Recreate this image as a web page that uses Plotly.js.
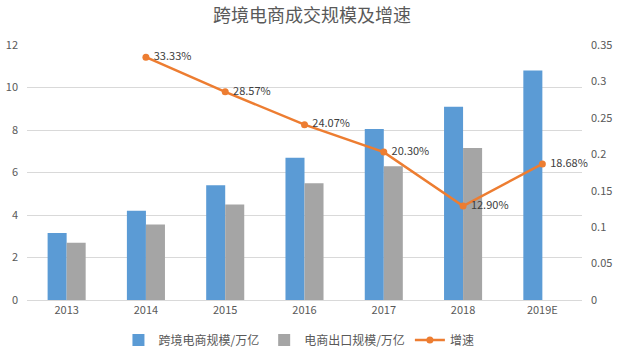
<!DOCTYPE html>
<html><head><meta charset="utf-8">
<script src="https://cdn.plot.ly/plotly-3.0.1.min.js"></script>
<style>html,body{margin:0;padding:0;background:#fff}#c{width:624px;height:353px}</style>
</head><body><div id="c"></div>
<script>
const years = ['2013','2014','2015','2016','2017','2018','2019E'];
const crossBorder = [3.15, 4.2, 5.4, 6.7, 8.05, 9.1, 10.8];
const exportScale = [2.7, 3.55, 4.5, 5.5, 6.3, 7.15, null];
const growth = [null, 0.3333, 0.2857, 0.2407, 0.2030, 0.1290, 0.1868];
const growthLabels = ['', ' 33.33%', ' 28.57%', ' 24.07%', ' 20.30%', ' 12.90%', ' 18.68%'];
const names = ['跨境电商规模/万亿', '电商出口规模/万亿', '增速'];

const font = 'Noto Sans CJK SC, Noto Sans, sans-serif';
const data = [
  {type:'bar', x:years, y:crossBorder, name:names[0], marker:{color:'#5B9BD5'}, hoverinfo:'none'},
  {type:'bar', x:years, y:exportScale, name:names[1], marker:{color:'#A5A5A5'}, hoverinfo:'none'},
  {type:'scatter', mode:'lines+markers+text', x:years, y:growth, yaxis:'y2', name:names[2],
   line:{color:'#ED7D31', width:2.5}, marker:{color:'#ED7D31', size:7},
   text:growthLabels, textposition:'middle right', textfont:{size:11, color:'#404040', family:font},
   connectgaps:false, cliponaxis:false, hoverinfo:'none'}
];
const layout = {
  width:624, height:353,
  margin:{l:27, r:42, t:45, b:53, autoexpand:false},
  paper_bgcolor:'#fff', plot_bgcolor:'#fff',
  font:{family:font, color:'#595959', size:11},
  title:{text:'跨境电商成交规模及增速', font:{size:18, color:'#595959', family:font}, x:0.5, xanchor:'center', y:0.955, yanchor:'middle'},
  barmode:'group', bargap:0.52, bargroupgap:0,
  showlegend:true,
  legend:{orientation:'h', x:0.49, xanchor:'center', y:-0.157, yanchor:'middle', font:{size:12, color:'#595959'}, itemwidth:30, traceorder:'normal'},
  xaxis:{type:'category', showgrid:false, showline:true, linecolor:'#D9D9D9', ticks:'', tickfont:{size:11, color:'#595959'}, fixedrange:true},
  yaxis:{range:[0,12], dtick:2, showgrid:true, gridcolor:'#D9D9D9', zeroline:false, showline:false, ticks:'', tickfont:{size:11, color:'#595959'}, ticklabelstandoff:8},
  yaxis2:{range:[0,0.35], dtick:0.05, overlaying:'y', side:'right', showgrid:false, zeroline:false, showline:false, ticks:'', tickfont:{size:11, color:'#595959'}, ticklabelstandoff:8}
};
Plotly.newPlot('c', data, layout, {displayModeBar:false, staticPlot:true});
</script></body></html>
